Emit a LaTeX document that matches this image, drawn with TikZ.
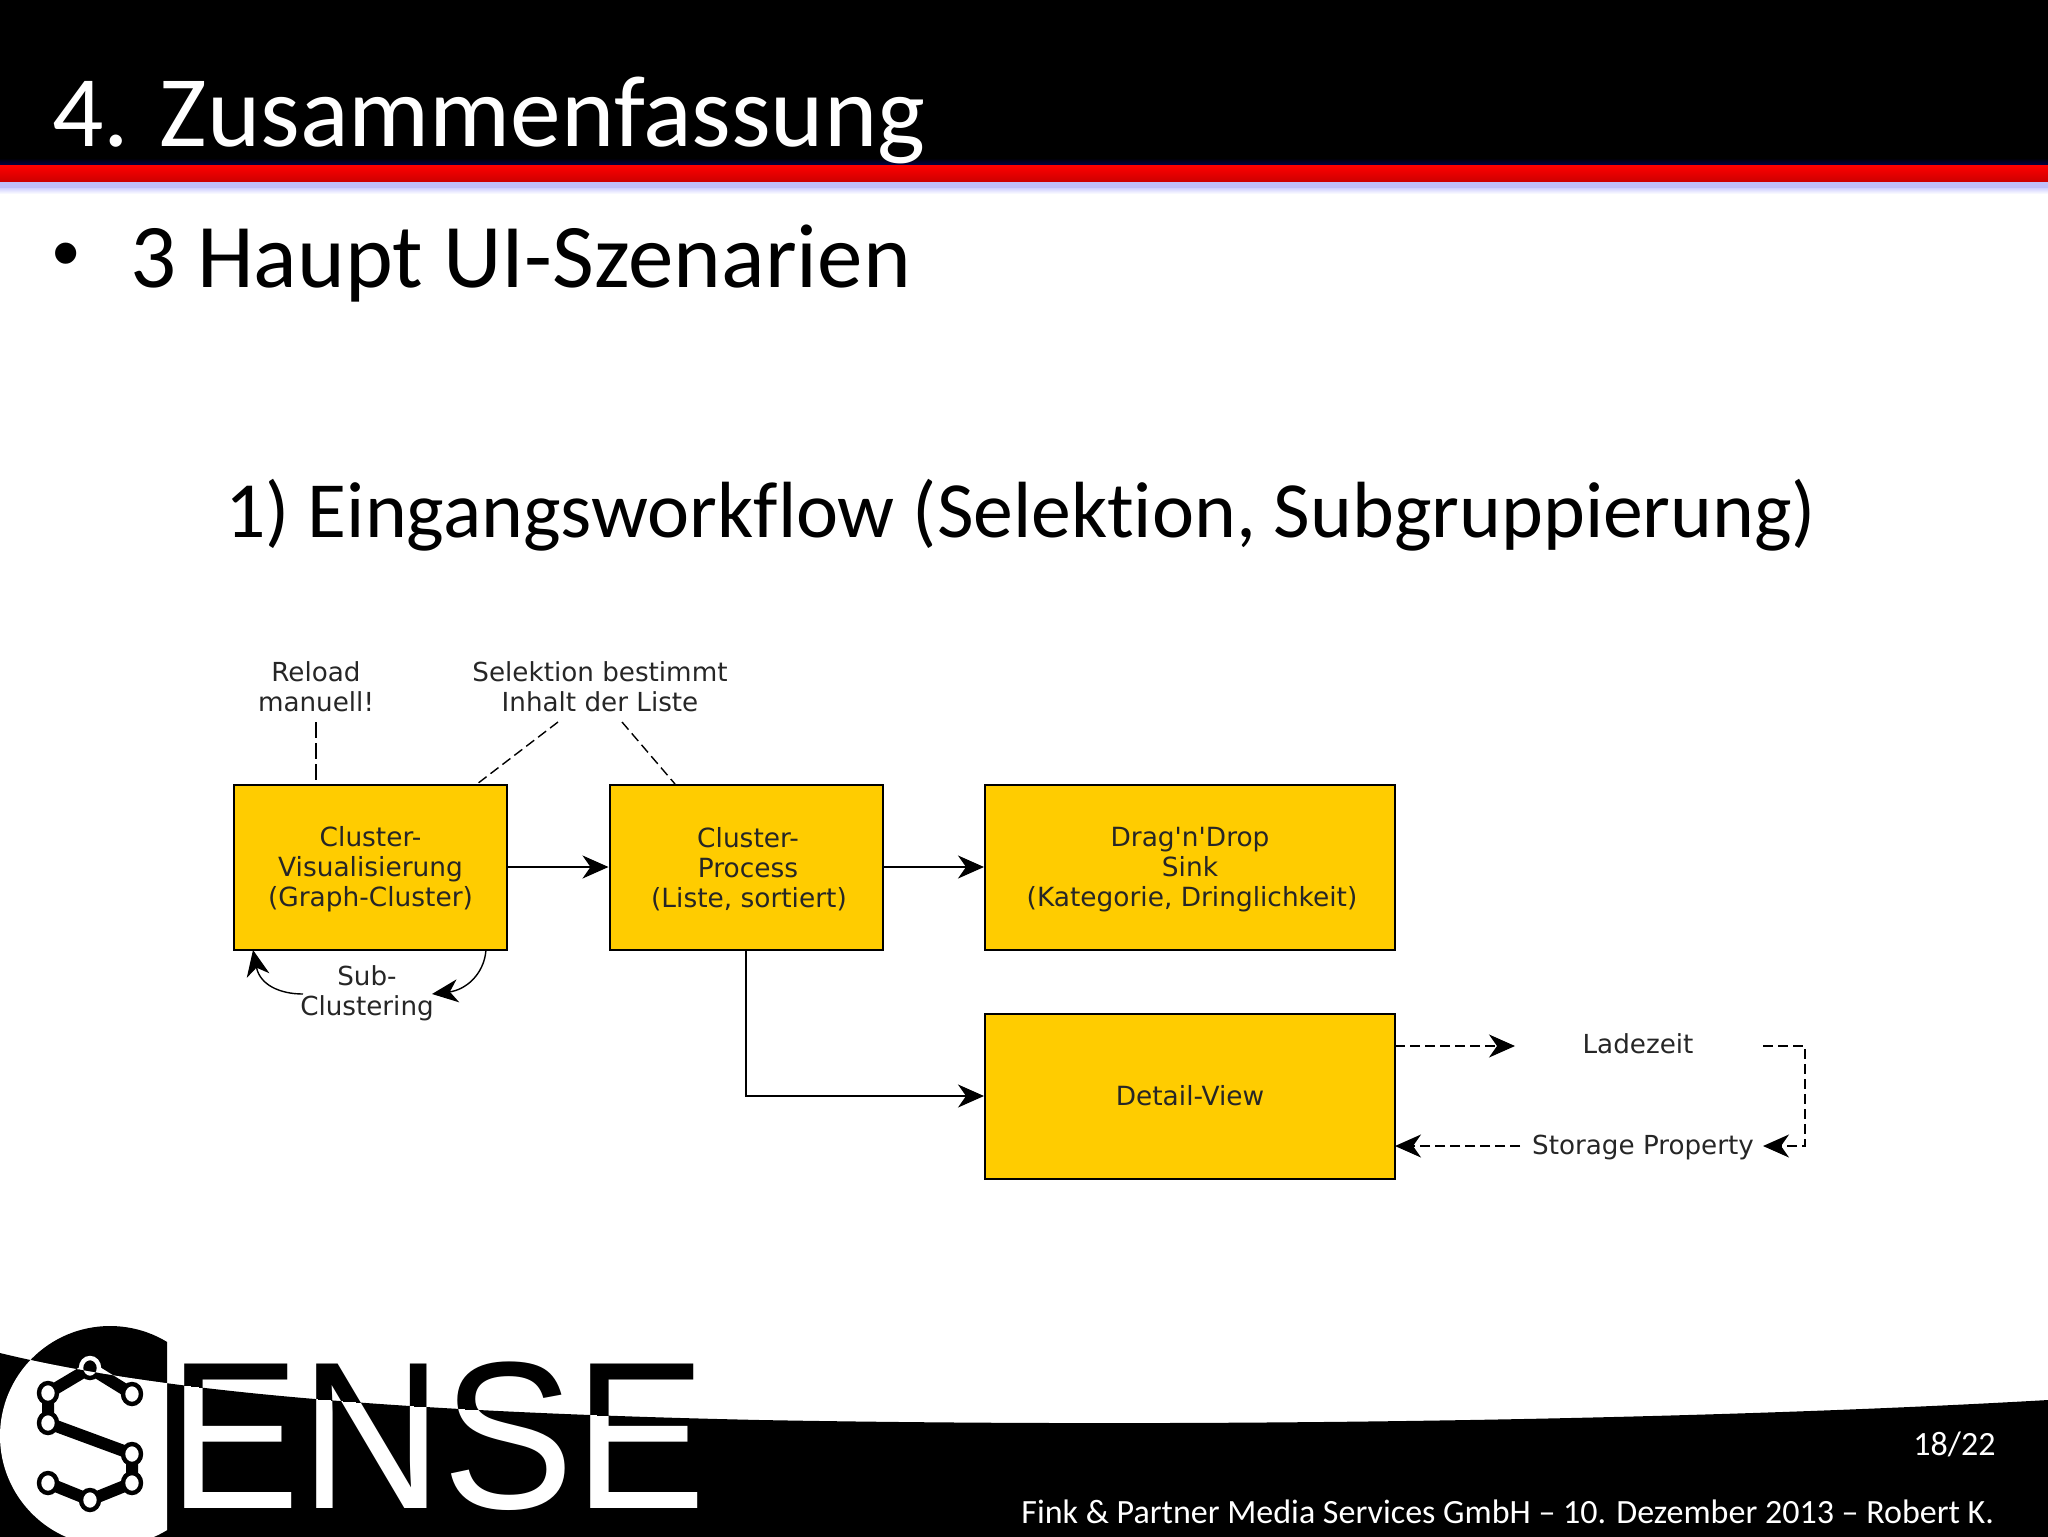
\documentclass[tikz,border=0pt]{standalone}
\usepackage{fontspec}
\setmainfont{Carlito}[Ligatures=CommonOff]
\newfontfamily\diagfont{DejaVu Sans}
\newfontfamily\logofont{Liberation Sans}
\usetikzlibrary{arrows.meta,calc}
\definecolor{boxy}{HTML}{FFCC00}
\newcommand{\lowerln}{\rule{0pt}{12.5pt}}
\tikzset{
  boxn/.style={draw=black,line width=1pt,fill=boxy,minimum width=#1,minimum height=82.5pt,inner sep=0pt,align=center,font=\diagfont\fontsize{13.2}{15}\selectfont,text=black!85},
  lab/.style={inner sep=0pt,align=center,font=\diagfont\fontsize{13.1}{15}\selectfont,text=black!85},
  slide/.style={inner sep=0pt,anchor=base west},
  arrtip/.style={-{Stealth[length=13pt,width=11.5pt,inset=4pt]}},
  arr/.style={line width=0.9pt,arrtip},
  dsh/.style={line width=0.7pt,dash pattern=on 5pt off 2.5pt},
  darr/.style={dsh,arrtip},
}
\newcommand{\curvepath}{(0,1353) .. controls (160,1392) and (400,1412) .. (760,1420) .. controls (1200,1428) and (1700,1420) .. (2048,1400)}
\newcommand{\lowerreg}{\curvepath -- (2048,1540) -- (0,1540) -- cycle}
\newcommand{\upperreg}{\curvepath -- (2048,1290) -- (0,1290) -- cycle}
\newcommand{\sensetext}[1]{\node[inner sep=0pt,anchor=base west,text=#1] at (168,1508) {\logofont\fontsize{105}{105}\selectfont\scalebox{0.94}[1]{ENSE}};}
\newcommand{\sgraph}[2]{%
  \draw[#1,line width=6pt,line join=round] (48,1483) -- (90,1500) -- (132,1483) -- (132,1454) -- (48,1423) -- (48,1393) -- (90,1368) -- (132,1394);
  \foreach \p in {(90,1368),(48,1393),(132,1394),(48,1423),(132,1454),(132,1483),(48,1483),(90,1500)}
    \draw[#1,fill=#2,line width=2.2pt] \p ellipse [x radius=9,y radius=10];
}
\begin{document}
\begin{tikzpicture}[x=0.5pt,y=-0.5pt]
\path[use as bounding box,fill=white] (0,0) rectangle (2048,1536);
% header
\fill[black] (0,0) rectangle (2048,158);
\shade[top color=black,bottom color=black!60!blue!70!black] (0,158) rectangle (2048,165);
\shade[top color=red,middle color=red,bottom color=red!80!black] (0,165) rectangle (2048,182);
\fill[black!10!blue!25!white] (0,182) rectangle (2048,188);
\shade[top color=blue!18!white,bottom color=white] (0,188) rectangle (2048,194);
\node[slide,text=white,font=\fontsize{50.7}{50.7}\selectfont] (title) at (52,146) {4. Zusammenfassung};
\node[slide,font=\logofont\fontsize{39}{39}\selectfont] (bul) at (52,279) {•};
\node[slide,font=\fontsize{45.5}{45.5}\selectfont] (sub) at (130,287) {3 Haupt UI-Szenarien};
\node[slide,font=\fontsize{39.85}{39.85}\selectfont] (head) at (225,537) {1) Eingangsworkflow (Selektion, Subgruppierung)};
% footer band
\fill[black] \lowerreg;
\begin{scope}
  \clip (0,1290) rectangle (167,1540);
  \begin{scope}\clip \upperreg; \fill[black] (110,1436) ellipse [x radius=110,y radius=110]; \end{scope}
  \begin{scope}\clip \lowerreg; \fill[white] (110,1436) ellipse [x radius=110,y radius=110]; \end{scope}
\end{scope}
\begin{scope}\clip \upperreg; \sensetext{black} \sgraph{white}{black} \end{scope}
\begin{scope}\clip \lowerreg; \sensetext{white} \sgraph{black}{white} \end{scope}
\node[slide,text=white,font=\fontsize{17}{17}\selectfont] (page) at (1913,1455) {18/22};
\node[slide,text=white,font=\fontsize{17}{17}\selectfont] (foot) at (1021,1523) {Fink \& Partner Media Services GmbH – 10. Dezember 2013 – Robert K.};
% boxes
\node[boxn=136.5pt] (cv) at (370.5,867) {\lowerln Cluster-\\Visualisierung\\(Graph-Cluster)};
\node[boxn=136.5pt] (cp) at (746,867) {\lowerln\hspace*{2pt}Cluster-\\\hspace*{2pt}Process\\\hspace*{3pt}(Liste, sortiert)};
\node[boxn=205pt] (dd) at (1190,867) {\lowerln Drag'n'Drop\\Sink\\\hspace*{2pt}(Kategorie, Dringlichkeit)};
\node[boxn=205pt] (dv) at (1190,1096) {Detail-View};
\node[lab] (rl) at (316,687) {Reload\\manuell!};
\node[lab] (sel) at (600,687) {Selektion bestimmt\\Inhalt der Liste};
\node[lab] (sc) at (367,993) {Sub-\\Clustering};
\node[lab] (lz) at (1638,1044) {Ladezeit};
\node[lab] (sp) at (1643,1147) {Storage Property};
\coordinate (rl1) at (316,722); \coordinate (rl2) at (316,785);
\coordinate (s1) at (558,722); \coordinate (s2) at (477,784);
\coordinate (s3) at (622,722); \coordinate (s4) at (675,784);
\coordinate (a1) at (486,950); \coordinate (a2) at (432,994);
\coordinate (b1) at (303,994); \coordinate (b2) at (253,950);
\coordinate (l1) at (1395,1046); \coordinate (l2) at (1515,1046);
\coordinate (l3) at (1763,1046); \coordinate (l4) at (1805,1046); \coordinate (l5) at (1805,1146); \coordinate (l6) at (1763,1146);
\coordinate (m1) at (1520,1146); \coordinate (m2) at (1395,1146);
\draw[arr] (cv.east) -- (cp.west);
\draw[arr] (cp.east) -- (dd.west);
\draw[arr] (cp.south) |- (dv.west);
\draw[dsh,dash pattern=on 8pt off 2.5pt] (rl1) -- (rl2);
\draw[dsh] (s1) -- (s2);
\draw[dsh] (s3) -- (s4);
\draw[arr,line width=0.7pt] (a1) .. controls (484,975) and (465,990) .. (a2);
\draw[arr,line width=0.7pt] (b1) .. controls (280,994) and (260,985) .. (b2);
\draw[darr] (l1) -- (l2);
\draw[darr] (l3) -- (l4) -- (l5) -- (l6);
\draw[darr] (m1) -- (m2);
\end{tikzpicture}
\end{document}
